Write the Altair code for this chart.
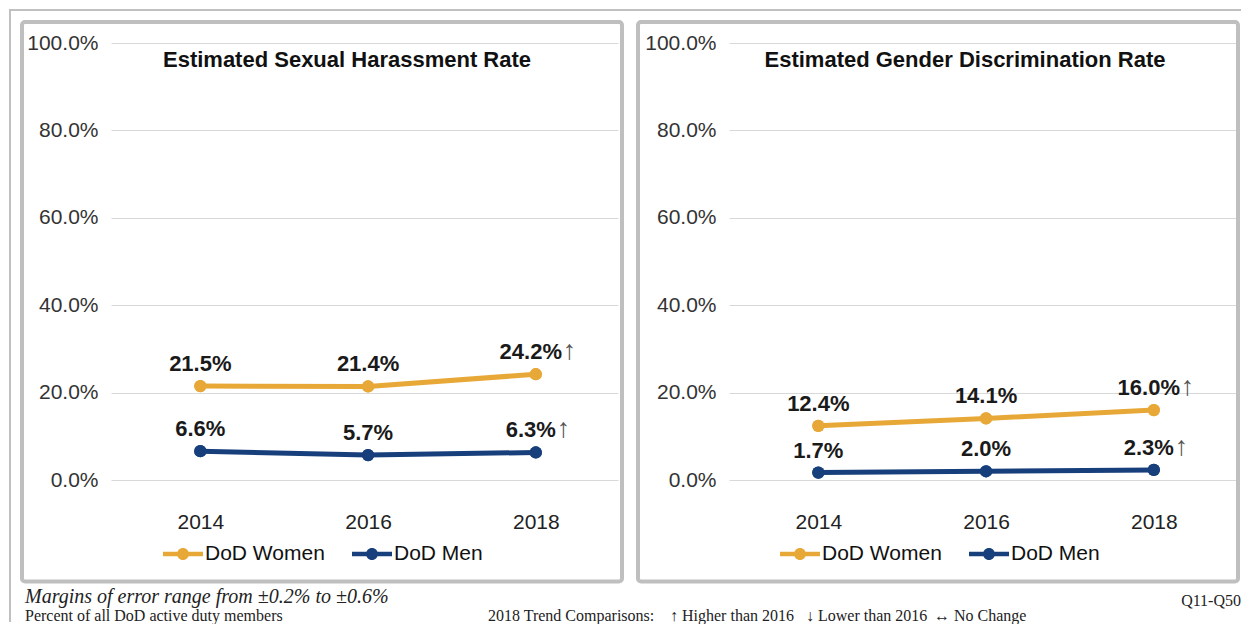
import altair as alt
import pandas as pd

# ---------------- data ----------------
years = [2014, 2016, 2018]
series = ["DoD Women", "DoD Men"]
harass_women = [21.5, 21.4, 24.2]
harass_men = [6.6, 5.7, 6.3]
discrim_women = [12.4, 14.1, 16.0]
discrim_men = [1.7, 2.0, 2.3]
trend_marks = ["", "", "\u2191"]
colors = ["#E8A838", "#173F7B"]
panel_titles = ["Estimated Sexual Harassment Rate", "Estimated Gender Discrimination Rate"]
y_ticks = [0, 20, 40, 60, 80, 100]
footer_margins = "Margins of error range from \u00b10.2% to \u00b10.6%"
footer_base = "Percent of all DoD active duty members"
footer_trend = ["2018 Trend Comparisons:", "\u2191 Higher than 2016", "\u2193 Lower than 2016", "\u2194 No Change"]
footer_q = "Q11-Q50"

FONT = "Liberation Sans"
SERIF = "Liberation Serif"
W, H = 507, 437
ONE = pd.DataFrame({"k": [0]})

LEGEND_PATH = ("M-1,-0.11H1V0.11H-1Z "
               "M0.3,0A0.3,0.3,0,1,1,-0.3,0A0.3,0.3,0,1,1,0.3,0Z")


def make_df(vals_w, vals_m):
    rows = []
    for name, vals in zip(series, [vals_w, vals_m]):
        for yr, v, t in zip(years, vals, trend_marks):
            rows.append({"year": yr, "series": name, "value": v,
                         "label": f"{v:.1f}%", "trend": t})
    return pd.DataFrame(rows)


def txt(text, x, y, **kw):
    return alt.Chart(pd.DataFrame({"t": [text]})).mark_text(**kw).encode(
        x=alt.value(x), y=alt.value(y), text="t:N")


def panel(df, title, legend_x, frame_x, extra=None):
    xenc = alt.X("year:Q",
                 scale=alt.Scale(domain=[2012.935, 2018.98], nice=False, zero=False),
                 axis=alt.Axis(values=years, format="d", title=None, grid=False,
                               domain=False, ticks=False, labelFlush=False,
                               labelFontSize=21, labelFont=FONT, labelColor="#222",
                               labelPadding=42, labelBaseline="middle"))
    yenc = alt.Y("value:Q", scale=alt.Scale(domain=[0, 100], nice=False),
                 axis=alt.Axis(values=y_ticks, title=None, domain=False, ticks=False,
                               grid=True, gridColor="#d9d9d9", gridWidth=1,
                               labelExpr="format(datum.value, '.1f') + '%'",
                               labelFontSize=21, labelFont=FONT, labelColor="#333",
                               labelPadding=13))
    cscale = alt.Scale(domain=series, range=colors)
    base = alt.Chart(df)
    pts_legend = base.mark_circle(size=150, opacity=1).encode(
        x=xenc, y=yenc,
        color=alt.Color("series:N", scale=cscale,
                        legend=alt.Legend(title=None, orient="none",
                                          legendX=legend_x, legendY=491,
                                          direction="horizontal",
                                          symbolType=LEGEND_PATH, symbolSize=1600,
                                          symbolStrokeWidth=0, symbolOpacity=1,
                                          labelFont=FONT, labelFontSize=21,
                                          labelColor="#111", labelOffset=2,
                                          columnPadding=27, padding=0)))
    line = base.mark_line(strokeWidth=5).encode(
        x=xenc, y=yenc, color=alt.Color("series:N", scale=cscale, legend=None))
    pts = base.mark_circle(size=150, opacity=1).encode(
        x=xenc, y=yenc, color=alt.Color("series:N", scale=cscale, legend=None))
    lab_kw = dict(font=FONT, fontSize=22, fontWeight="bold", color="#1a1a1a",
                  baseline="alphabetic", dy=-15)
    lab = base.transform_filter("datum.year != 2018").mark_text(**lab_kw).encode(
        x=xenc, y=yenc, text="label:N")
    lab18 = base.transform_filter("datum.year == 2018").mark_text(dx=-5, **lab_kw).encode(
        x=xenc, y=yenc, text="label:N")
    arrow_kw = dict(font=FONT, fontSize=27, color="#555", align="left",
                    baseline="alphabetic", dy=-15)
    arrow_wide = base.transform_filter("datum.trend != '' && datum.value >= 10").mark_text(
        dx=27, **arrow_kw).encode(x=xenc, y=yenc, text="trend:N")
    arrow_narrow = base.transform_filter("datum.trend != '' && datum.value < 10").mark_text(
        dx=21, **arrow_kw).encode(x=xenc, y=yenc, text="trend:N")
    ttl = txt(title, 236, 24, font=FONT, fontSize=22, fontWeight="bold",
              color="#111", baseline="alphabetic")
    frame = alt.Chart(ONE).mark_rect(fill="transparent", stroke="#bfbfbf",
                                     strokeWidth=4, cornerRadius=3).encode(
        x=alt.value(frame_x), x2=alt.value(frame_x + 600),
        y=alt.value(-21), y2=alt.value(538.5))
    layers = [frame, pts_legend, line, pts, lab, lab18, arrow_wide, arrow_narrow, ttl]
    if extra:
        layers += extra
    return alt.layer(*layers).properties(width=W, height=H)


footer = [
    alt.Chart(ONE).mark_rule(color="#c0c0c0", strokeWidth=2).encode(
        x=alt.value(-102), x2=alt.value(1130), y=alt.value(-33)),
    alt.Chart(ONE).mark_rule(color="#c0c0c0", strokeWidth=2).encode(
        x=alt.value(-101), y=alt.value(-34), y2=alt.value(579)),
    txt(footer_margins, -86, 560, font=SERIF, fontSize=20, fontStyle="italic",
        color="#222", align="left", baseline="alphabetic"),
    txt(footer_base, -86, 578, font=SERIF, fontSize=16, color="#222",
        align="left", baseline="alphabetic"),
    txt(footer_trend[0], 377, 578, font=SERIF, fontSize=16, color="#222",
        align="left", baseline="alphabetic"),
    txt(footer_trend[1], 559, 578, font=SERIF, fontSize=16, color="#222",
        align="left", baseline="alphabetic"),
    txt(footer_trend[2], 695, 578, font=SERIF, fontSize=16, color="#222",
        align="left", baseline="alphabetic"),
    txt(footer_trend[3], 823, 578, font=SERIF, fontSize=16, color="#222",
        align="left", baseline="alphabetic"),
    txt(footer_q, 1130, 563, font=SERIF, fontSize=16, color="#222",
        align="right", baseline="alphabetic"),
]

left = panel(make_df(harass_women, harass_men), panel_titles[0], 52, -89, footer)
right = panel(make_df(discrim_women, discrim_men), panel_titles[1], 51, -91)

chart = alt.hconcat(left, right, spacing=111, bounds="flush", padding=0).resolve_scale(
    color="independent").configure_view(stroke=None)

chart.save("out.html", embed_options={"renderer": "svg", "actions": False})
